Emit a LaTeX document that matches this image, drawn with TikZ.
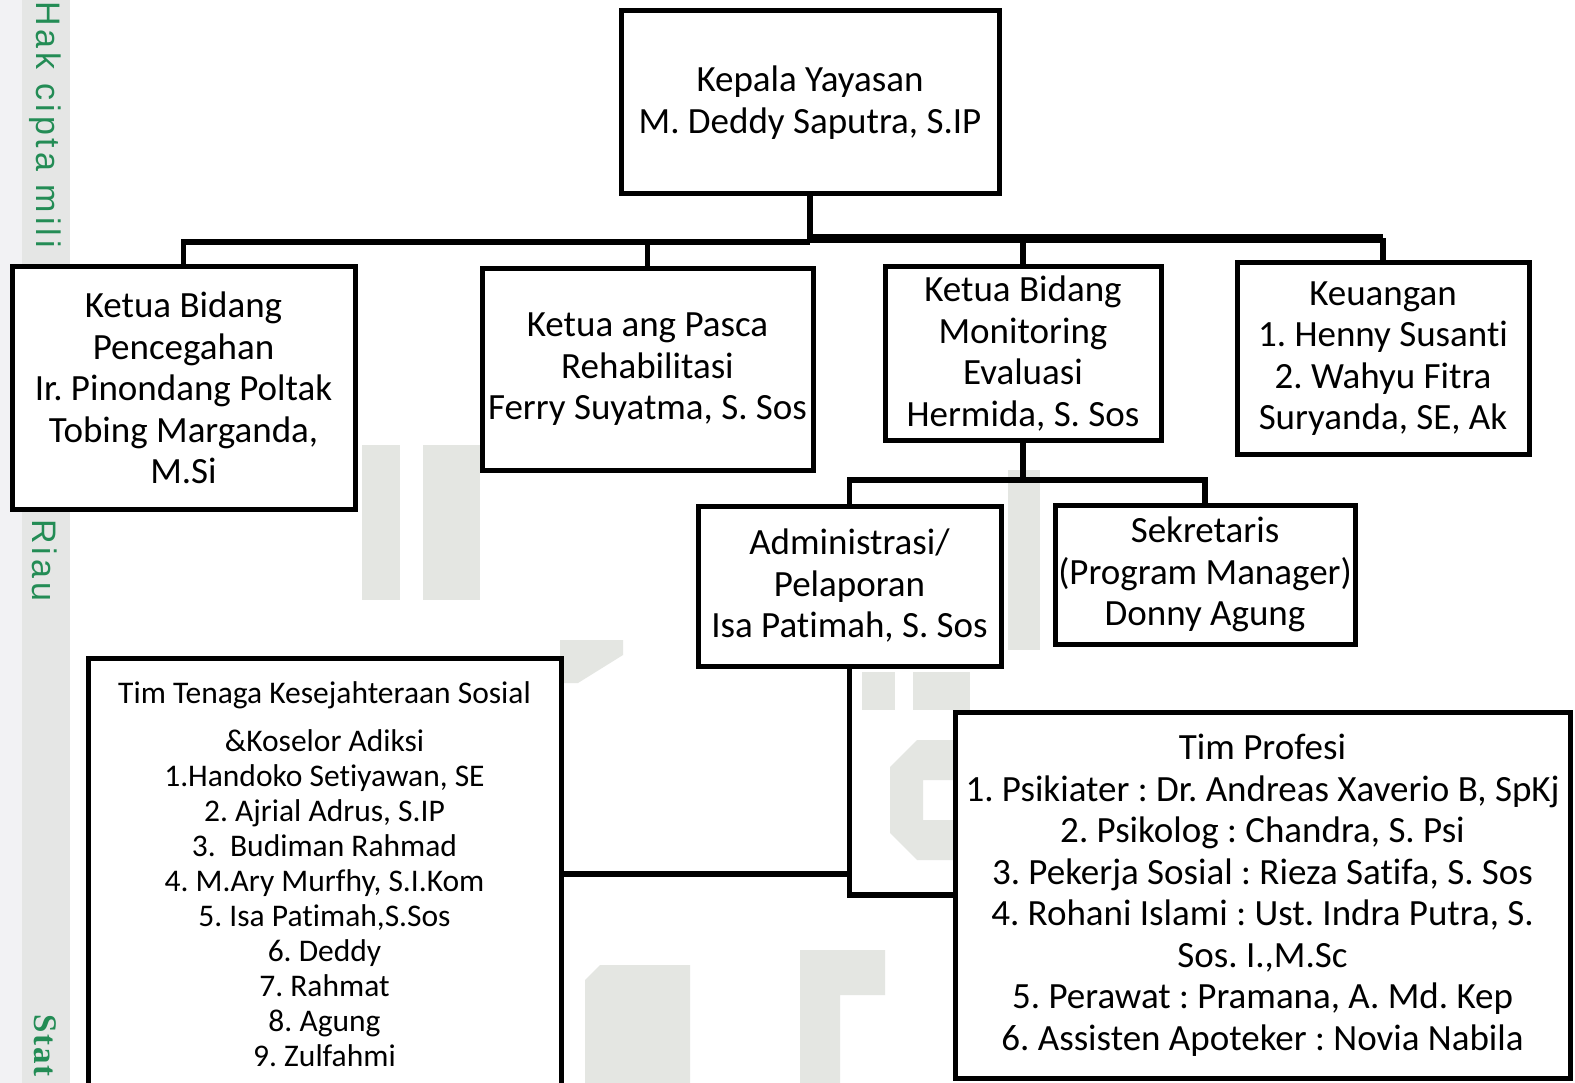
\documentclass[tikz,border=0pt]{standalone}
\usepackage{fontspec}
\setmainfont[Ligatures=NoCommon]{Carlito}
\newfontfamily\wmfont[LetterSpace=12]{Liberation Sans}
\newfontfamily\wmserif[LetterSpace=6]{Liberation Serif}
\definecolor{wmgreen}{RGB}{35,140,85}
\definecolor{stripA}{RGB}{242,242,244}
\definecolor{stripB}{RGB}{229,230,229}
\definecolor{wmgray}{RGB}{228,230,226}
\begin{document}
\begin{tikzpicture}[x=1pt,y=-1pt,
  box/.style={draw, line width=5pt, fill=white, align=center, inner sep=0pt,
    font=\fontsize{37}{41.5}\selectfont\frenchspacing},
  smallbox/.style={box, font=\fontsize{31.5}{35}\selectfont\frenchspacing},
  conn/.style={line width=5.5pt},
  logo/.style={fill=wmgray},
  wm/.style={text=wmgreen, rotate=-90, anchor=west, inner sep=0pt,
    font=\wmfont\fontsize{34}{34}\selectfont}]
\useasboundingbox (0,0) rectangle (1575,1083);
\clip (0,0) rectangle (1575,1083);
\fill[white] (0,0) rectangle (1575,1083);
% left margin strip
\fill[stripA] (0,0) rectangle (22,1083);
\fill[stripB] (22,0) rectangle (70,1083);
\node[wm] (wm1) at (45,1) {Hak cipta mili};
\node[wm] (wm2) at (45,519) {Riau};
\node[wm, font=\wmserif\bfseries\fontsize{33}{33}\selectfont] (wm3) at (45,1014) {Stat};

% faint background logo (partly hidden behind the boxes)
\fill[logo] (362,445) rectangle (400,600);
\fill[logo] (423,445) rectangle (480,600);
\fill[logo] (560,640) -- (623,640) -- (623,655) -- (578,683) -- (560,683) -- cycle;
\fill[logo] (862,672) rectangle (895,710);
\fill[logo] (913,672) rectangle (970,710);
\fill[logo] (1008,470) rectangle (1040,650);
\fill[logo] (917,740) -- (960,740) -- (960,780) -- (923,780) -- (923,820) -- (960,820)
  -- (960,860) -- (917,860) -- (890,833) -- (890,767) -- cycle;
\fill[logo] (600,965) -- (690,965) -- (690,1083) -- (585,1083) -- (585,980) -- cycle;
\fill[logo] (800,950) -- (885,950) -- (885,995) -- (840,995) -- (840,1083) -- (800,1083) -- cycle;

% boxes
\node[box, minimum width=378pt, minimum height=183pt] (kepala) at (810,102.5)
  {Kepala Yayasan\\M. Deddy Saputra, S.IP};
\node[box, minimum width=343pt, minimum height=242pt] (pencegahan) at (183.5,388)
  {Ketua Bidang\\Pencegahan\\Ir. Pinondang Poltak\\Tobing Marganda,\\M.Si};
\node[box, minimum width=331pt, minimum height=201pt] (pasca) at (647.5,369.5)
  {Ketua ang Pasca\\Rehabilitasi\\Ferry Suyatma, S. Sos};
\node[box, minimum width=276pt, minimum height=173pt] (monitoring) at (1023,353.5)
  {Ketua Bidang\\Monitoring\\Evaluasi\\Hermida, S. Sos};
\node[box, minimum width=292pt, minimum height=191pt] (keuangan) at (1383,358.5)
  {Keuangan\\1. Henny Susanti\\2. Wahyu Fitra\\Suryanda, SE, Ak};
\node[box, minimum width=303pt, minimum height=160pt] (admin) at (849.5,586)
  {Administrasi/\\Pelaporan\\Isa Patimah, S. Sos};
\node[box, minimum width=300pt, minimum height=139pt] (sekretaris) at (1205,574.5)
  {Sekretaris\\(Program Manager)\\Donny Agung};
\node[smallbox, minimum width=473pt, minimum height=432pt] (tenaga) at (324.5,874)
  {Tim Tenaga Kesejahteraan Sosial\\[13pt]\&Koselor Adiksi\\1.Handoko Setiyawan, SE\\2. Ajrial Adrus, S.IP\\3.\ \ Budiman Rahmad\\4. M.Ary Murfhy, S.I.Kom\\5. Isa Patimah,S.Sos\\6. Deddy\\7. Rahmat\\8. Agung\\9. Zulfahmi};
\node[box, minimum width=615pt, minimum height=366pt] (profesi) at (1262.5,895)
  {Tim Profesi\\1. Psikiater : Dr. Andreas Xaverio B, SpKj\\2. Psikolog : Chandra, S. Psi\\3. Pekerja Sosial : Rieza Satifa, S. Sos\\4. Rohani Islami : Ust. Indra Putra, S.\\Sos. I.,M.Sc\\5. Perawat : Pramana, A. Md. Kep\\6. Assisten Apoteker : Novia Nabila};

% connectors
\coordinate (j1L) at (810,242);
\coordinate (j1R) at (810,238.5);
\coordinate (j2) at (1023,480);
\draw[conn] (pencegahan.north) |- (j1L);
\draw[conn] (pasca.north) -- (pasca.north |- j1L);
\draw[conn, line width=9pt] (j1R) -- (keuangan.north |- j1R);
\draw[conn] (keuangan.north) -- (keuangan.north |- j1R);
\draw[conn] (monitoring.north) -- (monitoring.north |- j1R);
\draw[conn] (kepala.south) -- (j1L);
\draw[conn] (monitoring.south) -- (j2);
\draw[conn] (admin.north) |- (j2);
\draw[conn] (sekretaris.north) |- (j2);
\draw[conn] (admin.south) |- (profesi.west);
\draw[conn] (tenaga.east) -- (tenaga.east -| admin.south);
\end{tikzpicture}
\end{document}
